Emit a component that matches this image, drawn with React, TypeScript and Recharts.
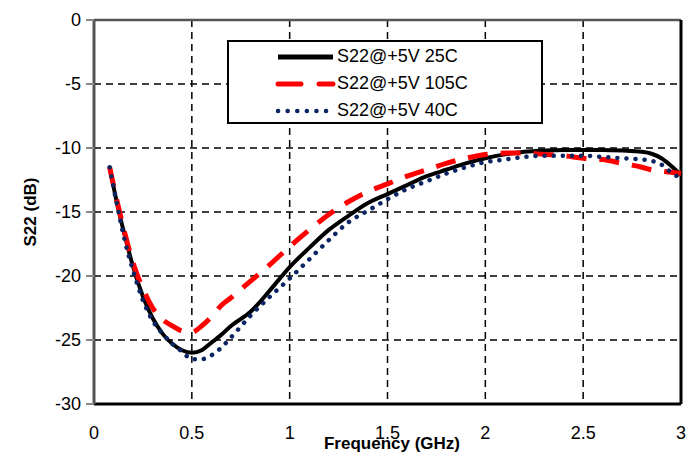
import { ComposedChart, Line, XAxis, YAxis, CartesianGrid, ReferenceLine, Legend, Label } from 'recharts'

const freq = [0.08, 0.12, 0.16, 0.2, 0.25, 0.3, 0.35, 0.4, 0.45, 0.5, 0.55, 0.6, 0.65, 0.7, 0.8, 0.9, 1.0, 1.1, 1.2, 1.3, 1.4, 1.5, 1.6, 1.7, 1.8, 1.9, 2.0, 2.1, 2.2, 2.3, 2.4, 2.5, 2.6, 2.7, 2.8, 2.85, 2.9, 2.95, 3.0]
const s22_25C = [-11.5, -14.5, -17.0, -19.3, -21.6, -23.3, -24.5, -25.3, -25.8, -26.0, -25.8, -25.2, -24.6, -23.9, -22.8, -21.1, -19.3, -17.8, -16.4, -15.3, -14.3, -13.6, -12.9, -12.2, -11.7, -11.2, -10.8, -10.5, -10.3, -10.2, -10.15, -10.15, -10.15, -10.2, -10.3, -10.45, -10.8, -11.4, -12.1]
const s22_105C = [-11.5, -14.3, -16.8, -19.0, -21.0, -22.5, -23.4, -23.9, -24.3, -24.4, -23.9, -23.2, -22.3, -21.7, -20.4, -19.1, -17.7, -16.4, -15.2, -14.2, -13.4, -12.8, -12.2, -11.7, -11.2, -10.8, -10.5, -10.4, -10.4, -10.5, -10.6, -10.8, -10.9, -11.2, -11.5, -11.7, -11.8, -11.9, -12.0]
const s22_40C = [-11.5, -14.6, -17.4, -19.6, -21.9, -23.5, -24.5, -25.3, -25.9, -26.5, -26.5, -26.2, -25.6, -24.8, -23.1, -21.6, -20.2, -18.7, -17.2, -15.8, -14.9, -14.0, -13.2, -12.6, -12.0, -11.5, -11.1, -10.9, -10.7, -10.6, -10.6, -10.6, -10.7, -10.8, -10.9, -11.0, -11.3, -11.9, -12.4]
const xTicks = [0, 0.5, 1, 1.5, 2, 2.5, 3]
const yTicks = [-30, -25, -20, -15, -10, -5, 0]

const data = freq.map((f, i) => ({ f, c25: s22_25C[i], c105: s22_105C[i], c40: s22_40C[i] }))

const FONT = '"Liberation Sans", Arial, sans-serif'

function LegendBox() {
  const rows = [
    { name: 'S22@+5V 25C', color: '#000', dash: undefined, width: 5, cap: 'butt' },
    { name: 'S22@+5V 105C', color: '#ff0000', dash: '23 18', width: 5, cap: 'round' },
    { name: 'S22@+5V 40C', color: '#0b2563', dash: '0.1 9.5', width: 4.5, cap: 'round' },
  ]
  return (
    <div style={{ width: 316, height: 84, border: '2px solid #000', background: '#fff', boxSizing: 'border-box', fontFamily: FONT, fontSize: 18, paddingTop: 1 }}>
      {rows.map(r => (
        <div key={r.name} style={{ display: 'flex', alignItems: 'center', height: 27 }}>
          <svg width={108} height={10}>
            <line x1={49} y1={5} x2={104} y2={5} stroke={r.color} strokeWidth={r.width} strokeDasharray={r.dash} strokeLinecap={r.cap as any} />
          </svg>
          <span>{r.name}</span>
        </div>
      ))}
    </div>
  )
}

export default function App() {
  return (
    <div style={{ position: 'absolute', left: 0, top: 0, background: '#fff' }}>
      <ComposedChart width={697} height={454} data={data} margin={{ top: 20, right: 16, bottom: 0, left: 0 }} style={{ fontFamily: FONT }}>
        <CartesianGrid stroke="#000" strokeWidth={1.5} strokeDasharray="7 5" />
        <XAxis dataKey="f" type="number" domain={[0, 3]} ticks={xTicks} height={50}
          axisLine={{ stroke: '#000', strokeWidth: 3 }} tickLine={false} tickMargin={16}
          tick={{ fill: '#000', fontSize: 18 }}>
          <Label content={() => (
            <text x={392} y={449} textAnchor="middle" fontWeight="bold" fontSize={17} fill="#000" fontFamily={FONT}>Frequency (GHz)</text>
          )} />
        </XAxis>
        <YAxis type="number" domain={[-30, 0]} ticks={yTicks} width={94}
          axisLine={{ stroke: '#555', strokeWidth: 3 }} tickLine={{ stroke: '#888', strokeWidth: 2 }} tickSize={8} tickMargin={5}
          tick={{ fill: '#000', fontSize: 18 }}>
          <Label content={() => (
            <text x={36} y={212} transform="rotate(-90 36 212)" textAnchor="middle" fontWeight="bold" fontSize={17} fill="#000" fontFamily={FONT}>S22 (dB)</text>
          )} />
        </YAxis>
        <ReferenceLine y={0} stroke="#555" strokeWidth={2.5} />
        <ReferenceLine x={3} stroke="#000" strokeWidth={3} />
        <Line type="monotone" dataKey="c25" stroke="#000" strokeWidth={4} dot={false} isAnimationActive={false} />
        <Line type="monotone" dataKey="c105" stroke="#ff0000" strokeWidth={5} strokeDasharray="20 13" dot={false} isAnimationActive={false} />
        <Line type="monotone" dataKey="c40" stroke="#0b2563" strokeWidth={4.5} strokeDasharray="0.1 9" strokeLinecap="round" dot={false} isAnimationActive={false} />
        <Legend layout="horizontal" verticalAlign="middle" align="center" content={() => <LegendBox />}
          wrapperStyle={{ position: 'absolute', left: 227, top: 40, width: 316 }} />
      </ComposedChart>
    </div>
  )
}
